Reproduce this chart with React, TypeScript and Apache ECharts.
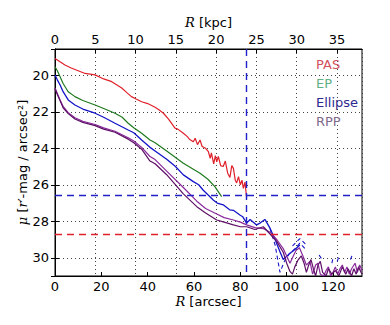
import React, { useEffect, useRef } from "react";
import * as echarts from "echarts";

// ---- data (R in arcsec, mu in mag/arcsec^2) ----
const pasR = [0, 2, 4.3, 7, 10, 13, 17.3, 21, 24.5, 28.8, 31, 33, 35, 37.4, 40, 43.2, 45, 46.8, 49, 51.8, 53, 55.4, 57, 58, 59.7, 60.5, 61.5, 62.6, 63.5, 65, 66.2, 67, 67.5, 68.5, 69.2, 69.8, 70.5, 71.5, 72.6, 73.5, 74.5, 75.5, 76.3, 77, 77.8, 78.4, 79.2, 80, 80.7, 81.3, 82, 82.7];
const pasMu = [19.08, 19.25, 19.44, 19.6, 19.75, 19.9, 19.98, 20.2, 20.35, 20.7, 20.95, 21.17, 21.3, 21.45, 21.55, 21.75, 21.9, 22.08, 22.4, 22.9, 22.95, 23.18, 23.35, 23.5, 23.64, 23.45, 23.8, 23.55, 23.9, 24.0, 24.19, 24.55, 24.25, 24.85, 24.4, 24.74, 24.45, 24.95, 25.0, 24.7, 25.35, 25.6, 24.95, 25.1, 25.75, 25.9, 25.55, 26.0, 25.75, 26.2, 25.85, 26.74];

const epR = [0, 1, 2.2, 3.5, 5.7, 8.6, 12, 17.3, 21, 25.9, 29, 31.6, 34, 37.4, 41, 43.2, 48.2, 55.4, 62.6, 66, 69, 71.9];
const epMu = [19.53, 19.75, 20.08, 20.45, 20.9, 21.17, 21.38, 21.63, 21.82, 22.08, 22.3, 22.63, 22.88, 23.18, 23.55, 23.7, 24.15, 24.82, 25.37, 25.7, 26.1, 26.65];

const ellR = [0, 1, 2.2, 3.5, 5.7, 8.6, 12, 17.3, 21, 25.9, 31.6, 34, 37.4, 41, 43.2, 48.2, 52, 55.4, 59.7, 62, 64, 66, 68.3, 70, 72.6, 75.5, 77, 79.8, 81, 82.7, 84.2, 87, 88.5, 90.6, 92.8, 95, 97.1, 98.5, 101, 103, 105.7];
const ellMu = [19.98, 20.25, 20.53, 20.9, 21.35, 21.63, 21.85, 22.08, 22.3, 22.63, 23.0, 23.15, 23.55, 23.95, 24.15, 24.6, 25.0, 25.46, 25.83, 26.0, 26.3, 26.55, 26.83, 27.0, 27.1, 27.38, 27.4, 27.66, 27.75, 28.1, 27.9, 28.2, 28.1, 27.9, 28.38, 29.0, 29.67, 30.1, 29.8, 29.6, 29.3];

const ellErrAR = [92.8, 95, 97.1, 99, 101, 103.6, 105.7, 107.9];
const ellErrAMu = [28.4, 29.3, 30.8, 30.2, 29.8, 29.5, 29.2, 29.5];
const ellErrBR = [102.5, 105.7, 108.5, 113, 114, 115, 118.5, 119.5, 120, 121, 121.8, 122.5, 128, 129];
const ellErrBMu = [29.35, 28.95, 29.3, null, 29.85, 30.05, null, 30.3, 30.0, null, 30.2, 29.95, null, 30.05];
const ellErrCR = [127.5, 128.6];
const ellErrCMu = [30.1, 29.75];

const rppAR = [0, 1, 2.2, 3.5, 5.7, 8.6, 12, 17.3, 21, 25.9, 31.6, 34, 37.4, 41, 43.2, 48.2, 55.4, 61.2, 65, 69.8, 73, 77, 80, 82.7, 86.3, 89.9, 92.8, 95.7, 98.5, 100, 101.4, 102.5, 104, 105.5, 107, 108.5, 110, 111.2, 112.5, 113.5, 114.5, 116, 117, 118, 119, 120, 121, 122, 123, 124, 125, 126, 127, 128, 129.5, 130.5, 131.5, 132.5];
const rppAMu = [20.7, 21.0, 21.35, 21.7, 22.05, 22.33, 22.52, 22.7, 22.88, 23.07, 23.42, 23.6, 23.95, 24.45, 24.62, 25.25, 26.15, 26.9, 27.3, 27.6, 27.8, 27.93, 28.05, 28.2, 28.35, 28.4, 28.6, 29.0, 29.5, 29.9, 30.3, 30.0, 29.6, 29.45, 29.9, 30.4, 30.2, 30.9, 30.4, 30.3, 30.9, 31.0, 30.7, 30.5, 31.0, 30.8, 30.5, 30.9, 30.6, 30.4, 30.8, 30.5, 30.9, 30.6, 30.3, 30.8, 30.4, 30.7];

const rppBR = [0, 1, 2.2, 3.5, 5.7, 8.6, 12, 17.3, 21, 25.9, 31.6, 34, 37.4, 41, 43.2, 48.2, 55.4, 61.2, 65, 69.8, 73, 77, 80, 82.7, 86.3, 89.9, 92.8, 95.7, 98.5, 100, 101.4, 102.5, 103.5, 105, 106.3, 107.5, 108.5, 109.5, 110.5, 111.5, 112.5, 113.5, 114.5, 115.5, 117, 118, 119.5, 121, 122.5, 124, 125.5, 126.5, 128, 129, 130, 131, 132.5];
const rppBMu = [20.72, 21.05, 21.4, 21.78, 22.1, 22.4, 22.58, 22.76, 22.95, 23.12, 23.5, 23.7, 24.05, 24.7, 24.85, 25.45, 26.5, 27.2, 27.55, 27.93, 28.05, 28.2, 28.3, 28.3, 28.45, 28.3, 28.7, 29.1, 29.7, 30.3, 30.75, 30.9, 30.5, 30.1, 29.9, 30.3, 30.8, 30.4, 30.1, 30.6, 31.0, 30.4, 30.2, 30.8, 31.0, 30.6, 30.9, 30.7, 31.0, 30.5, 30.9, 30.6, 31.0, 30.6, 30.9, 30.5, 30.9];

const xTicksArcsec = [0, 20, 40, 60, 80, 100, 120];
const xTicksKpc = [0, 5, 10, 15, 20, 25, 30, 35];
const yTicks = [20, 22, 24, 26, 28, 30];

const legendNames = ["PAS", "EP", "Ellipse", "RPP"];
const legendColors = ["#d4505c", "#5fb284", "#2e2890", "#80698c"];

const xMaxArcsec = 132.5;
const arcsecPerKpc = 3.477;
const yMin = 18.56;
const yMax = 31.0;
const rCut = 82.7; // vertical dashed line (arcsec)
const muBlue = 26.6; // horizontal blue dashed
const muRed = 28.73; // horizontal red dashed

const pairs = (xs: number[], ys: (number | null)[]) =>
  xs.map((x, i) => [x, ys[i] === null ? "-" : ys[i]]);

const FONT = "DejaVu Sans";

export default function App() {
  const ref = useRef<HTMLDivElement>(null);
  useEffect(() => {
    if (!ref.current) return;
    const chart = echarts.init(ref.current, undefined, { renderer: "svg" });
    const tickFmt = (list: number[]) => (v: number) =>
      list.some((t) => Math.abs(t - v) < 1e-6) ? String(Math.round(v)) : "";
    const dotted = { type: [1, 3] as any, color: "#444", width: 1 };
    const lineSeries = (name: string, data: any[], color: string, width = 1.2, type: any = "solid") => ({
      type: "line",
      name,
      data,
      showSymbol: false,
      symbol: "none",
      connectNulls: false,
      lineStyle: { color, width, type },
      itemStyle: { color },
      xAxisIndex: 0,
      yAxisIndex: 0,
      z: 3,
    });
    const rich = { i: { fontStyle: "italic", fontFamily: "DejaVu Serif", fontSize: 13, color: "#000" } };
    chart.setOption({
      animation: false,
      backgroundColor: "#fff",
      textStyle: { fontFamily: FONT },
      grid: { left: 55, right: 28, top: 49, bottom: 49, show: true, borderColor: "#000", borderWidth: 1, backgroundColor: "transparent" },
      legend: {
        data: legendNames.map((n, i) => ({ name: n, icon: "none", textStyle: { color: legendColors[i] } })),
        orient: "vertical",
        left: 311,
        top: 57.5,
        padding: 0,
        itemWidth: 0,
        itemHeight: 13,
        itemGap: 6.3,
        selectedMode: false,
        textStyle: { fontSize: 13, fontFamily: FONT },
      },
      xAxis: [
        {
          type: "value",
          position: "bottom",
          min: 0,
          max: xMaxArcsec,
          interval: 20,
          name: "{i|R} [arcsec]",
          nameLocation: "middle",
          nameGap: 19,
          nameMoveOverlap: false,
          nameTextStyle: { fontSize: 13, color: "#000", fontFamily: FONT, rich },
          axisLine: { show: true, lineStyle: { color: "#000" } },
          axisTick: { show: true, inside: true, length: 4, lineStyle: { color: "#000" } },
          axisLabel: { fontSize: 13, color: "#000", margin: 4, formatter: tickFmt(xTicksArcsec), showMaxLabel: false },
          splitLine: { show: false },
        },
        {
          type: "value",
          position: "top",
          min: 0,
          max: xMaxArcsec / arcsecPerKpc,
          interval: 5,
          name: "{i|R} [kpc]",
          nameLocation: "middle",
          nameGap: 20,
          nameMoveOverlap: false,
          nameTextStyle: { fontSize: 13, color: "#000", fontFamily: FONT, rich },
          axisLine: { show: true, lineStyle: { color: "#000" } },
          axisTick: { show: true, inside: true, length: 4, lineStyle: { color: "#000" } },
          axisLabel: { fontSize: 13, color: "#000", margin: 3, formatter: tickFmt(xTicksKpc), showMaxLabel: false },
          splitLine: { show: true, lineStyle: dotted },
        },
      ],
      yAxis: [
        {
          type: "value",
          inverse: true,
          min: yMin,
          max: yMax,
          minInterval: 2,
          maxInterval: 2,
          position: "left",
          name: "{i|μ} [{i|r}′-mag / arcsec²]",
          nameLocation: "middle",
          nameGap: 26,
          nameMoveOverlap: false,
          nameTextStyle: { fontSize: 13, color: "#000", fontFamily: FONT, rich },
          axisLine: { show: true, lineStyle: { color: "#000" } },
          axisTick: { show: true, inside: true, length: 4, lineStyle: { color: "#000" } },
          axisLabel: { fontSize: 13, color: "#000", margin: 6, formatter: tickFmt(yTicks), showMinLabel: false, showMaxLabel: false },
          splitLine: { show: true, lineStyle: dotted },
        },
        {
          type: "value",
          inverse: true,
          min: yMin,
          max: yMax,
          minInterval: 2,
          maxInterval: 2,
          position: "right",
          axisLine: { show: true, lineStyle: { color: "#000" } },
          axisTick: { show: true, inside: true, length: 4, lineStyle: { color: "#000" } },
          axisLabel: { show: false },
          splitLine: { show: false },
        },
      ],
      series: [
        {
          ...lineSeries("PAS", pairs(pasR, pasMu), "#e0202a"),
          markLine: {
            silent: true,
            symbol: "none",
            label: { show: false },
            lineStyle: { color: "#e0202a", width: 1.4, type: [7, 5] },
            data: [{ yAxis: muRed }],
          },
        },
        lineSeries("EP", pairs(epR, epMu), "#1f7a1f"),
        {
          ...lineSeries("Ellipse", pairs(ellR, ellMu), "#1414c8", 1.3),
          markLine: {
            silent: true,
            symbol: "none",
            label: { show: false },
            lineStyle: { color: "#2020c8", width: 1.4, type: [7, 5] },
            data: [{ yAxis: muBlue }, { xAxis: rCut }],
          },
        },
        lineSeries("Ellipse err", pairs(ellErrAR, ellErrAMu), "#1414c8", 1.1, [4, 3]),
        lineSeries("Ellipse err2", pairs(ellErrBR, ellErrBMu), "#1414c8", 1.1, [4, 3]),
        lineSeries("Ellipse err3", pairs(ellErrCR, ellErrCMu), "#1414c8", 1.1, [4, 3]),
        lineSeries("RPP", pairs(rppAR, rppAMu), "#8a2a9c", 1.2),
        lineSeries("RPP", pairs(rppBR, rppBMu), "#5e0f66", 1.2),
      ],
    });
    return () => chart.dispose();
  }, []);
  return <div ref={ref} style={{ width: 390, height: 325, position: "absolute", left: 0, top: 0 }} />;
}
